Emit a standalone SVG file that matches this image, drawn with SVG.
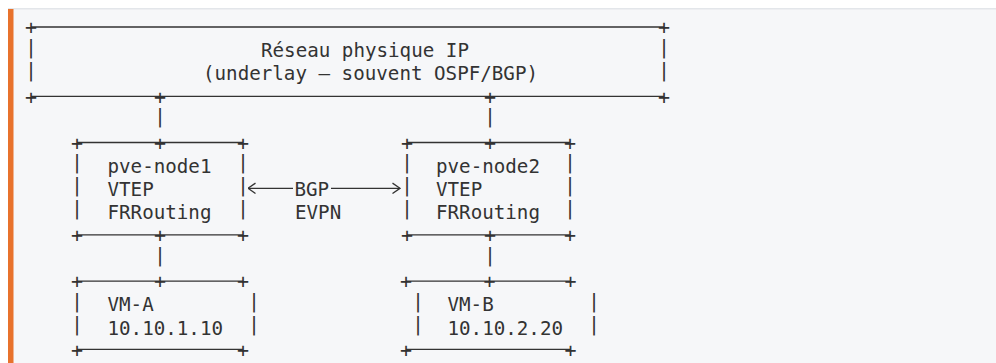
<svg xmlns="http://www.w3.org/2000/svg" width="996" height="363" viewBox="0 0 996 363">
<style>
.t{font-family:"DejaVu Sans Mono","Liberation Mono",monospace;font-size:19.2px;fill:#333}
.g{font-family:"DejaVu Sans Mono","Liberation Mono",monospace;font-size:19.2px;fill:#333;text-anchor:middle}
.p{font-family:"DejaVu Sans Mono","Liberation Mono",monospace;font-size:20px;fill:#333;text-anchor:middle}
.h{stroke:#333;stroke-width:1.3;fill:none}
</style>
<defs>
<marker id="ah" viewBox="0 0 9 12" refX="8.5" refY="6" markerWidth="9" markerHeight="12" markerUnits="userSpaceOnUse" orient="auto-start-reverse">
<path d="M1,0.8 L8.5,6 L1,11.2" fill="none" stroke="#333" stroke-width="1.3"/>
</marker>
</defs>
<rect width="996" height="363" fill="#fff"/>
<rect x="8" y="8" width="988" height="355" fill="#f6f7f9"/>
<rect x="8" y="8" width="988" height="1.5" fill="#e3e6ea"/>
<rect x="8" y="9" width="5.5" height="354" fill="#e8722c"/>

<g id="underlay">
<path class="h" d="M31 27H664M31 96.3H664"/>
<text class="p" x="31" y="34.2">+</text><text class="p" x="664" y="34.2">+</text>
<text class="p" x="31" y="103.5">+</text><text class="p" x="160" y="103.5">+</text><text class="p" x="490" y="103.5">+</text><text class="p" x="664" y="103.5">+</text>
<text class="g" x="31" y="53.6">|</text><text class="g" x="664" y="53.6">|</text>
<text class="g" x="31" y="76.7">|</text><text class="g" x="664" y="76.7">|</text>
<text class="t" x="261" y="57.3">Réseau physique IP</text>
<text class="t" x="203" y="80.4">(underlay – souvent OSPF/BGP)</text>
</g>

<g id="pve-node1">
<path class="h" d="M77 142.5H243M77 234.9H243"/>
<text class="p" x="77" y="149.7">+</text><text class="p" x="160" y="149.7">+</text><text class="p" x="243" y="149.7">+</text>
<text class="p" x="77" y="242.1">+</text><text class="p" x="160" y="242.1">+</text><text class="p" x="243" y="242.1">+</text>
<text class="g" x="77" y="169.1">|</text><text class="g" x="243" y="169.1">|</text>
<text class="g" x="77" y="192.2">|</text><text class="g" x="243" y="192.2">|</text>
<text class="g" x="77" y="215.3">|</text><text class="g" x="243" y="215.3">|</text>
<text class="t" x="107.5" y="172.8">pve-node1</text>
<text class="t" x="107.5" y="195.9">VTEP</text>
<text class="t" x="107.5" y="219">FRRouting</text>
</g>

<g id="pve-node2">
<path class="h" d="M407 142.5H570M407 234.9H570"/>
<text class="p" x="407" y="149.7">+</text><text class="p" x="490" y="149.7">+</text><text class="p" x="570" y="149.7">+</text>
<text class="p" x="407" y="242.1">+</text><text class="p" x="490" y="242.1">+</text><text class="p" x="570" y="242.1">+</text>
<text class="g" x="407" y="169.1">|</text><text class="g" x="570" y="169.1">|</text>
<text class="g" x="407" y="192.2">|</text><text class="g" x="570" y="192.2">|</text>
<text class="g" x="407" y="215.3">|</text><text class="g" x="570" y="215.3">|</text>
<text class="t" x="436" y="172.8">pve-node2</text>
<text class="t" x="436" y="195.9">VTEP</text>
<text class="t" x="436" y="219">FRRouting</text>
</g>

<g id="vm-a">
<path class="h" d="M77 281.1H243M77 349.4H243"/>
<text class="p" x="77" y="288.3">+</text><text class="p" x="160" y="288.3">+</text><text class="p" x="243" y="288.3">+</text>
<text class="p" x="77" y="356.6">+</text><text class="p" x="243" y="356.6">+</text>
<text class="g" x="77" y="307.7">|</text><text class="g" x="254" y="307.7">|</text>
<text class="g" x="77" y="330.8">|</text><text class="g" x="254" y="330.8">|</text>
<text class="t" x="107.5" y="311.4">VM-A</text>
<text class="t" x="107.5" y="334.5">10.10.1.10</text>
</g>

<g id="vm-b">
<path class="h" d="M406 281.1H570.5M406 349.4H570.5"/>
<text class="p" x="406" y="288.3">+</text><text class="p" x="489.5" y="288.3">+</text><text class="p" x="570.5" y="288.3">+</text>
<text class="p" x="406" y="356.6">+</text><text class="p" x="570.5" y="356.6">+</text>
<text class="g" x="418" y="307.7">|</text><text class="g" x="594" y="307.7">|</text>
<text class="g" x="418" y="330.8">|</text><text class="g" x="594" y="330.8">|</text>
<text class="t" x="447.5" y="311.4">VM-B</text>
<text class="t" x="447.5" y="334.5">10.10.2.20</text>
</g>

<g id="connectors">
<text class="g" x="160" y="122.9">|</text>
<text class="g" x="490" y="122.9">|</text>
<text class="g" x="160" y="261.5">|</text>
<text class="g" x="490" y="261.5">|</text>
<path class="h" d="M248 188.3H293" marker-start="url(#ah)"/>
<path class="h" d="M331 188.3H400" marker-end="url(#ah)"/>
<text class="t" x="294.5" y="195.9">BGP</text>
<text class="t" x="295" y="219">EVPN</text>
</g>
</svg>
